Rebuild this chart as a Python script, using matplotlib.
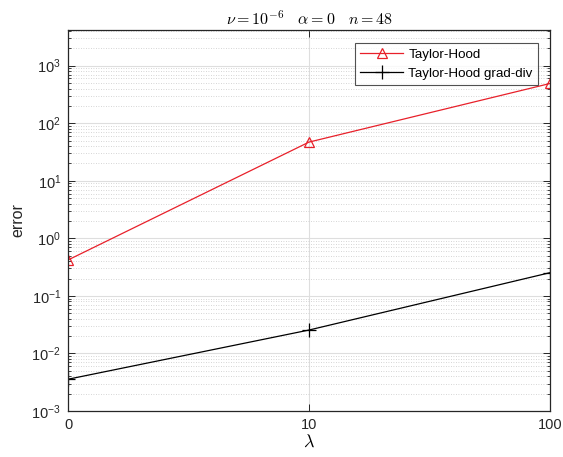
import matplotlib
matplotlib.use("Agg")
import matplotlib.pyplot as plt
import numpy as np
from matplotlib.ticker import NullFormatter, FixedLocator, FuncFormatter

plt.rcParams['font.family'] = ['Liberation Sans', 'DejaVu Sans']
plt.rcParams['mathtext.fontset'] = 'cm'

lambdas = ["0", "10", "100"]
err_taylor_hood = [0.42, 47.0, 490.0]
err_grad_div = [0.00356, 0.0255, 0.253]

pos = list(range(len(lambdas)))
decades = np.arange(-3, 4)

fig = plt.figure(figsize=(5.63, 4.57), dpi=100)
ax = fig.add_axes([0.1208, 0.1007, 0.9769 - 0.1208, 0.9344 - 0.1007])

ax.plot(pos, err_taylor_hood, color='#e8202a', lw=0.9, marker='^',
        markersize=7.5, markerfacecolor='none', markeredgewidth=0.9,
        label='Taylor-Hood')
ax.plot(pos, err_grad_div, color='black', lw=0.9, marker='+',
        markersize=10, markeredgewidth=0.9, label='Taylor-Hood grad-div')

ax.set_yscale('log')
ax.set_ylim(1e-3, 4170)
ax.set_xlim(0, 2)
ax.xaxis.set_major_locator(FixedLocator(pos))
ax.set_xticklabels(lambdas)
ax.yaxis.set_major_locator(FixedLocator(10.0 ** decades))
minor = [m * 10.0 ** d for d in decades for m in range(2, 10) if m * 10.0 ** d <= 4170]
ax.yaxis.set_minor_locator(FixedLocator(minor))
ax.yaxis.set_minor_formatter(NullFormatter())
ax.yaxis.set_major_formatter(
    FuncFormatter(lambda v, _: r'$\mathregular{10^{%d}}$' % int(round(np.log10(v)))))

ax.grid(True, which='major', color='#dedede', lw=0.8, ls='-')
ax.grid(True, which='minor', axis='y', color='#c8c8c8', lw=0.6, ls=(0, (1, 2)))
ax.set_axisbelow(True)

for s in ax.spines.values():
    s.set_color('#262626')
    s.set_linewidth(0.9)
ax.tick_params(which='both', direction='in', top=True, right=True,
               colors='#262626', labelsize=10.5, pad=5)
ax.tick_params(which='major', length=5, width=0.7)
ax.tick_params(which='minor', length=2.5, width=0.6)

ax.set_title(r'$\nu = 10^{-6}\ \ \ \alpha = 0\ \ \ n = 48$', fontsize=11.5, pad=4)
ax.set_xlabel(r'$\lambda$', fontsize=13, labelpad=1)
ax.set_ylabel('error', fontsize=11.5, color='#262626', labelpad=4)

leg = ax.legend(loc='upper right', bbox_to_anchor=(0.975, 0.966), fontsize=9.6,
                frameon=True, fancybox=False, handlelength=3.2,
                handletextpad=0.4, borderpad=0.4, labelspacing=0.5,
                borderaxespad=0)
leg.get_frame().set_edgecolor('#262626')
leg.get_frame().set_linewidth(0.8)

fig.savefig('out.png', dpi=100, facecolor='white')
